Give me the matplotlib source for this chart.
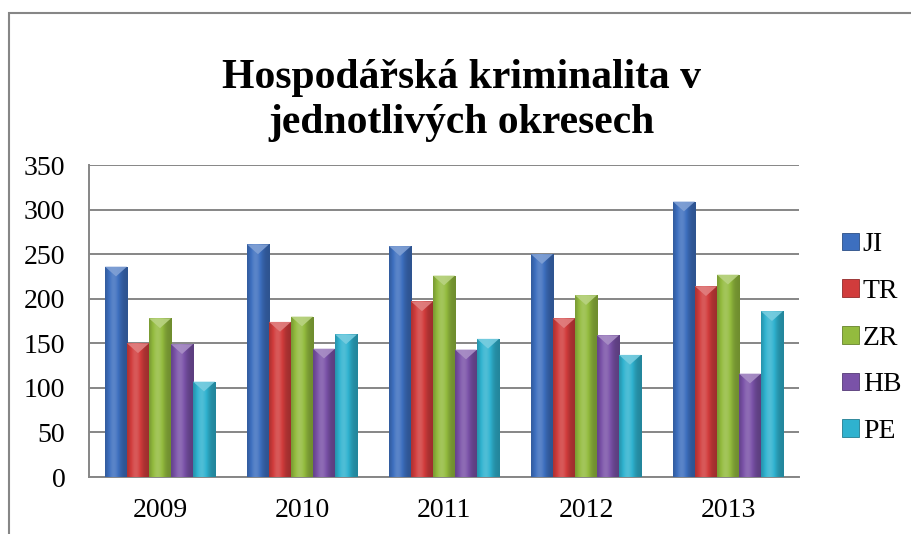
import numpy as np
import matplotlib
matplotlib.use("Agg")
import matplotlib.pyplot as plt
from matplotlib.patches import Rectangle, Polygon
from matplotlib.colors import to_rgb

plt.rcParams['font.family'] = ['Liberation Serif', 'DejaVu Serif']

years = ["2009", "2010", "2011", "2012", "2013"]
districts = ["JI", "TR", "ZR", "HB", "PE"]
JI = [236, 261, 259, 250, 309]
TR = [150, 174, 197, 178, 214]
ZR = [178, 180, 226, 204, 227]
HB = [149, 144, 143, 159, 116]
PE = [107, 160, 155, 137, 186]
series = [JI, TR, ZR, HB, PE]
colors = ["#3d6fbf", "#d13c3c", "#93bb3e", "#7a52a8", "#2fb2cf"]


def shade(c, f):
    r = np.array(to_rgb(c))
    if f >= 1:
        return r + (1 - r) * (f - 1)
    return r * f


def bar_gradient(c):
    # darker edges, lighter slightly left of centre
    t = np.linspace(0, 1, 60)
    prof = 0.75 + 0.4 * np.exp(-((t - 0.38) / 0.3) ** 2)
    img = np.array([np.clip(shade(c, p), 0, 1) for p in prof])
    return img[np.newaxis, :, :]


fig = plt.figure(figsize=(9.11, 5.34), dpi=100)
ax = fig.add_axes([0.0977, 0.1067, 0.7793, 0.5843])

x = np.arange(len(years))
w = 0.155
bars = []
for i, (vals, c, name) in enumerate(zip(series, colors, districts)):
    b = ax.bar(x + (i - 2) * w, vals, w, color=c, label=name, zorder=3,
               edgecolor=shade(c, 0.75), linewidth=0.6)
    bars.append((b, c))

# gradient fill and bevelled top for each bar
for b, c in bars:
    img = bar_gradient(c)
    for p in b.patches:
        x0, y0 = p.get_x(), p.get_y()
        bw, bh = p.get_width(), p.get_height()
        im = ax.imshow(img, extent=(x0, x0 + bw, y0, y0 + bh), aspect='auto',
                       zorder=4, interpolation='bilinear')
        im.set_clip_path(p)
        tri = Polygon([(x0, bh), (x0 + bw, bh), (x0 + bw * 0.5, bh - 11)],
                      closed=True, facecolor=shade(c, 1.35), edgecolor='none',
                      zorder=5, alpha=0.9)
        ax.add_patch(tri)

ax.set_xlim(-0.5, len(years) - 0.5)
ax.set_ylim(0, 350)
ax.set_yticks(range(0, 351, 50))
ax.set_xticks(x)
ax.set_xticklabels(years)
ax.yaxis.grid(True, color="#868686", linewidth=1.4, zorder=0)
ax.set_axisbelow(True)
for s in ["top", "right"]:
    ax.spines[s].set_visible(False)
for s in ["left", "bottom"]:
    ax.spines[s].set_color("#868686")
    ax.spines[s].set_linewidth(1.4)
ax.tick_params(axis='both', length=0, labelsize=20, colors='black')
ax.tick_params(axis='y', pad=17)
ax.tick_params(axis='x', pad=15)

handles = [Rectangle((0, 0), 1, 1, facecolor=c, edgecolor=shade(c, 0.7), linewidth=0.6)
           for c in colors]
fig.legend(handles, districts, loc='center left', bbox_to_anchor=(0.912, 0.367),
           frameon=False, fontsize=20, handlelength=0.6, handleheight=0.6,
           handletextpad=0.15, labelspacing=0.78, borderaxespad=0)

fig.text(0.507, 0.812, "Hospodářská kriminalita v\njednotlivých okresech",
         ha='center', va='center', fontsize=30, fontweight='bold', linespacing=1.25)

# outer chart frame
fig.patches.append(Rectangle((9 / 911, -0.05), 1.1, 1 - 13 / 534 + 0.05,
                             transform=fig.transFigure, fill=False,
                             edgecolor="#868686", linewidth=1.5))

fig.savefig("out.png", dpi=100)
